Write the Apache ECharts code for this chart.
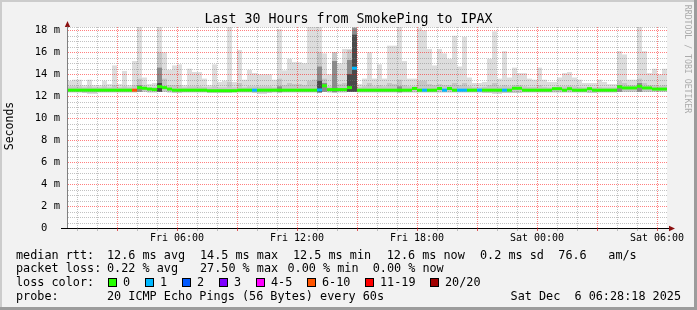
<!DOCTYPE html>
<html><head><meta charset="utf-8">
<script src="https://cdn.jsdelivr.net/npm/echarts@6/dist/echarts.min.js"></script>
<style>html,body{margin:0;padding:0;background:#f2f2f2}#c{width:697px;height:310px}</style>
</head><body><div id="c"></div>
<script>
// ---- time base (hours since Fri 00:00) ----
const startHour = 0.5, endHour = 30.5, stepHours = 0.25;

// ---- smoke (ms) per 15-minute slot ----
const smokeMin = [
12.35,12.35,12.35,12.3,12.25,12.25,12.35,12.35,12.35,12.35,
12.35,12.35,12.35,12.35,12.4,12.4,12.35,12.35,12.4,12.4,
12.35,12.3,12.3,12.35,12.35,12.35,12.35,12.35,12.3,12.3,
12.3,12.3,12.3,12.35,12.35,12.35,12.35,12.3,12.25,12.25,
12.3,12.35,12.35,12.35,12.35,12.35,12.35,12.35,12.35,12.35,
12.35,12.4,12.35,12.35,12.35,12.35,12.4,12.4,12.35,12.35,
12.35,12.35,12.35,12.35,12.35,12.35,12.35,12.35,12.35,12.35,
12.35,12.35,12.35,12.35,12.35,12.35,12.35,12.35,12.35,12.35,
12.35,12.35,12.35,12.3,12.3,12.25,12.25,12.3,12.3,12.3,
12.3,12.35,12.35,12.35,12.35,12.35,12.35,12.35,12.35,12.35,
12.35,12.35,12.35,12.35,12.3,12.3,12.35,12.35,12.35,12.35,
12.4,12.4,12.4,12.4,12.4,12.4,12.4,12.4,12.4,12.4];
const smokeMax = [
13.4,13.5,13.5,13.0,13.5,13.0,13.0,13.4,13.1,14.8,
13.1,14.3,13.0,15.2,18.3,13.7,13.1,13.2,18.3,16.0,
14.4,14.8,14.9,13.0,14.5,14.2,14.2,13.6,13.0,14.9,
13.3,13.4,18.3,13.3,16.2,13.5,14.4,14.1,14.0,14.0,
14.0,13.5,18.1,14.35,15.4,15.1,15.1,15.0,18.3,18.3,
18.3,15.9,14.0,16.0,15.0,16.3,16.3,18.3,13.1,13.6,
16.0,13.6,14.9,13.6,16.6,16.6,18.3,15.2,13.6,13.6,
18.2,18.0,16.3,14.8,16.3,15.9,15.4,17.5,14.7,17.4,
13.7,13.2,13.2,13.3,15.4,17.9,13.6,16.1,13.7,14.6,
14.1,14.1,13.6,13.5,14.6,13.5,13.3,13.3,13.7,14.1,
14.2,13.7,13.5,13.2,13.2,13.2,13.5,13.3,13.1,13.1,
16.1,15.8,13.5,13.5,18.3,16.1,14.1,14.5,14.0,14.5];
const smokeMid = [
12.9,12.9,12.9,12.8,12.9,12.8,12.8,12.9,12.8,13.0,
12.8,12.9,12.8,13.0,13.6,13.0,12.8,12.85,16.0,13.6,
13.0,13.0,13.0,12.8,12.9,12.9,12.9,12.85,12.8,12.9,
12.8,12.8,13.3,12.8,13.2,12.8,12.9,12.9,12.9,12.9,
12.9,12.8,13.6,13.0,13.2,13.1,13.1,13.0,13.4,13.5,
16.0,13.6,12.9,16.0,13.1,13.2,16.2,18.3,12.8,12.9,
13.2,12.9,13.0,12.9,13.2,13.1,13.5,13.0,12.9,12.9,
13.4,13.4,13.1,13.0,13.1,13.0,13.0,13.2,13.0,13.2,
12.9,12.8,12.8,12.85,13.0,13.2,12.9,13.0,12.9,13.0,
13.0,12.9,12.85,12.85,13.0,12.85,12.8,12.85,12.9,12.9,
12.95,12.9,12.85,12.8,12.85,12.8,12.85,12.8,12.8,12.8,
13.4,13.2,13.0,13.0,13.6,13.2,13.0,13.0,12.95,13.0];
const smokeDark = [
0,0,0,0,0,0,0,0,0,0,
0,0,0,0,13.0,0,0,0,14.6,0,
0,0,0,0,0,0,0,0,0,0,
0,0,0,0,0,0,0,0,0,0,
0,0,12.9,0,0,0,0,0,0,0,
14.7,13.2,0,15.2,0,0,15.3,18.2,0,0,
0,0,0,0,0,0,12.9,0,0,0,
0,0,0,0,0,0,0,0,0,0,
0,0,0,0,0,0,0,0,0,0,
0,0,0,0,0,0,0,0,0,0,
0,0,0,0,0,0,0,0,0,0,
13.0,0,0,0,13.2,0,0,0,0,0];
const smokeCore = [
0,0,0,0,0,0,0,0,0,0,
0,0,0,0,0,0,0,0,13.2,0,
0,0,0,0,0,0,0,0,0,0,
0,0,0,0,0,0,0,0,0,0,
0,0,0,0,0,0,0,0,0,0,
13.4,0,0,0,0,0,14.0,17.6,0,0,
0,0,0,0,0,0,0,0,0,0,
0,0,0,0,0,0,0,0,0,0,
0,0,0,0,0,0,0,0,0,0,
0,0,0,0,0,0,0,0,0,0,
0,0,0,0,0,0,0,0,0,0,
0,0,0,0,0,0,0,0,0,0];

// ---- median rtt (ms) and lost pings (of 20) per slot ----
const medianRtt = [
12.55,12.55,12.55,12.55,12.55,12.55,12.55,12.55,12.55,12.55,
12.55,12.55,12.55,12.55,12.78,12.72,12.65,12.6,12.87,12.78,
12.65,12.55,12.55,12.55,12.55,12.55,12.55,12.55,12.5,12.5,
12.5,12.5,12.5,12.5,12.55,12.55,12.55,12.55,12.55,12.55,
12.55,12.55,12.55,12.55,12.55,12.55,12.55,12.55,12.55,12.55,
12.57,12.95,12.6,12.6,12.6,12.6,12.78,14.55,12.55,12.55,
12.55,12.55,12.55,12.55,12.55,12.55,12.55,12.55,12.55,12.7,
12.55,12.55,12.55,12.55,12.7,12.55,12.7,12.55,12.55,12.55,
12.55,12.55,12.55,12.55,12.55,12.55,12.55,12.55,12.55,12.72,
12.72,12.55,12.55,12.55,12.55,12.55,12.55,12.68,12.68,12.55,
12.68,12.55,12.55,12.55,12.68,12.55,12.55,12.55,12.55,12.55,
12.85,12.75,12.75,12.75,12.9,12.75,12.75,12.65,12.65,12.65];
const lostPings = [
0,0,0,0,0,0,0,0,0,0,
0,0,0,6,0,0,0,0,0,0,
0,0,0,0,0,0,0,0,0,0,
0,0,0,0,0,0,0,1,0,0,
0,0,0,0,0,0,0,0,0,0,
1,0,0,0,0,0,0,1,0,0,
0,0,0,0,0,0,0,0,0,0,
0,1,0,0,0,1,0,0,1,1,
0,0,1,0,0,0,0,1,0,0,
0,0,0,0,0,0,0,0,0,0,
0,0,0,0,0,0,0,0,0,0,
0,0,0,0,0,0,0,0,0,0];

// ---- axes / grid ----
const hourTicks = [1,2,3,4,5,6,7,8,9,10,11,12,13,14,15,16,17,18,19,20,21,22,23,24,25,26,27,28,29,30];
const minorHourLines = [1,2,4,5,7,8,10,11,13,14,16,17,19,20,22,23,25,26,28,29];
const majorHourTicks = [3,6,9,12,15,18,21,24,27,30];
const labelHours = [6,12,18,24,30];
const labelTexts = ['Fri 06:00','Fri 12:00','Fri 18:00','Sat 00:00','Sat 06:00'];
const yMajorTicks = [0,2,4,6,8,10,12,14,16,18];
const yMinorLines = [0.5,1,1.5,2.5,3,3.5,4.5,5,5.5,6.5,7,7.5,8.5,9,9.5,10.5,11,11.5,12.5,13,13.5,14.5,15,15.5,16.5,17,17.5,18.3];
const yMax = 18.3;

// ---- legend texts ----
const titleText = 'Last 30 Hours from SmokePing to IPAX';
const rttTexts = ['median rtt:','12.6 ms avg','14.5 ms max','12.5 ms min','12.6 ms now','0.2 ms sd','76.6','am/s'];
const lossTexts = ['packet loss:','0.22 % avg','27.50 % max','0.00 % min','0.00 % now'];
const lossColorTitle = 'loss color:';
const lossLabels = ['0','1','2','3','4-5','6-10','11-19','20/20'];
const lossColors = ['#26ff00','#00b8ff','#0059ff','#7e00ff','#ff00ff','#ff5500','#ff0000','#a10000'];
const probeTexts = ['probe:','20 ICMP Echo Pings (56 Bytes) every 60s'];
const dateText = 'Sat Dec  6 06:28:18 2025';

function lossBin(n){ if(n<=0) return 0; if(n<=3) return n; if(n<=5) return 4; if(n<=10) return 5; if(n<=19) return 6; return 7; }

const FONT = '"DejaVu Sans Mono", monospace';
const smokeData = smokeMax.map((mx,i)=>[startHour+i*stepHours, smokeMin[i], mx, smokeMid[i], smokeDark[i], smokeCore[i]]);
const medianData = medianRtt.map((m,i)=>[startHour+i*stepHours, m, lostPings[i]]);
const vMinorData = minorHourLines.map(v=>[v, 0]);
const vMajorData = majorHourTicks.map(v=>[v, 0]);
const hMinorData = yMinorLines.map(v=>[startHour, v]);
const hMajorData = yMajorTicks.filter(v=>v>0).map(v=>[startHour, v]);

const smokeShades = ['#dddddd','#c6c6c6','#8c8c8c','#4a4a4a'];
const gridGray = 'rgba(120,120,120,0.45)';
const gridRed = 'rgba(255,0,0,0.5)';

function renderSmoke(params, api){
  const t0 = api.value(0), lo = api.value(1);
  const p0 = api.coord([t0, lo]);
  const x1 = api.coord([t0+stepHours, lo])[0];
  const children = [];
  for (let k=0;k<4;k++){
    const hi = api.value(2+k);
    if (!(hi > lo)) continue;
    const yTop = api.coord([t0, hi])[1];
    children.push({type:'rect', shape:{x:p0[0], y:yTop, width:x1-p0[0], height:p0[1]-yTop}, style:{fill:smokeShades[k]}});
  }
  return {type:'group', children};
}
function renderMedian(params, api){
  const t0 = api.value(0), m = api.value(1), loss = api.value(2);
  const p = api.coord([t0, m]);
  const x1 = api.coord([t0+stepHours, m])[0];
  return {type:'rect', shape:{x:p[0], y:p[1]-1.5, width:x1-p[0], height:3}, style:{fill:lossColors[lossBin(loss)]}};
}
// dotted grid line (1 px on, 1 px off) built from small filled rects
function makeGridRenderer(color, horiz){
  return function(params, api){
    const children = [];
    if (!horiz){
      const v = api.value(0);
      const x = Math.round(api.coord([v, 0])[0]);
      const yb = Math.round(api.coord([v, 0])[1]), yt = Math.round(api.coord([v, yMax])[1]);
      for (let y = yb - 1; y >= yt; y -= 2) children.push({type:'rect', shape:{x:x, y:y, width:1, height:1}, style:{fill:color}});
    } else {
      const v = api.value(1);
      const y = Math.round(api.coord([startHour, v])[1]);
      const xl = Math.round(api.coord([startHour, v])[0]), xr = Math.round(api.coord([endHour, v])[0]);
      for (let x = xl + 1; x < xr; x += 2) children.push({type:'rect', shape:{x:x, y:y, width:1, height:1}, style:{fill:color}});
    }
    return {type:'group', children};
  };
}

const GL=67, GT=27, GW=600, GH=201;
const graphics = [];
function txt(x,y,t,size,opts){
  graphics.push(Object.assign({type:'text', x, y, silent:true,
    style:Object.assign({text:t, font:size+'px '+FONT, fill:'#000', align:'left', verticalAlign:'middle'}, (opts&&opts.style)||{})},
    opts&&opts.rotation!==undefined?{rotation:opts.rotation}:{}));
}
// frame shading
graphics.push({type:'rect', shape:{x:0,y:0,width:697,height:2}, style:{fill:'#cccccc'}, silent:true});
graphics.push({type:'rect', shape:{x:0,y:0,width:2,height:310}, style:{fill:'#cccccc'}, silent:true});
graphics.push({type:'rect', shape:{x:694,y:0,width:3,height:310}, style:{fill:'#9c9c9c'}, silent:true});
graphics.push({type:'rect', shape:{x:0,y:307,width:697,height:3}, style:{fill:'#9c9c9c'}, silent:true});
// title & side texts
txt(348.5, 20, titleText, 13.3, {style:{align:'center'}});
txt(10.5, 126, 'Seconds', 11.5, {rotation:Math.PI/2, style:{align:'center'}});
txt(687.5, 59, 'RRDTOOL / TOBI OETIKER', 8.2, {rotation:-Math.PI/2, style:{align:'center', fill:'#ababab'}});
// axis extensions & arrows (filled shapes)
graphics.push({type:'rect', shape:{x:61,y:228,width:GL-61,height:1}, style:{fill:'#000'}, silent:true});
graphics.push({type:'rect', shape:{x:GL+GW,y:228,width:3,height:1}, style:{fill:'#000'}, silent:true});
graphics.push({type:'polygon', shape:{points:[[675,228.5],[669,225.8],[669,231.2]]}, style:{fill:'#8b1010'}, silent:true});
graphics.push({type:'polygon', shape:{points:[[67.5,21],[64.8,27],[70.2,27]]}, style:{fill:'#8b1010'}, silent:true});
// legend rows
const rttX = [16,107,200,293,386.7,480,558.3,608.3];
rttTexts.forEach((t,i)=>txt(rttX[i], 255.5, t, 11.8));
const lossX = [16,107,200,287.5,372.7];
lossTexts.forEach((t,i)=>txt(lossX[i], 269, t, 11.8));
txt(16, 283, lossColorTitle, 11.8);
const boxX = [108,145,182,219,256,307,365,430];
lossLabels.forEach((t,i)=>{
  graphics.push({type:'rect', shape:{x:boxX[i], y:278, width:9, height:9}, style:{fill:'#000'}, silent:true});
  graphics.push({type:'rect', shape:{x:boxX[i]+1, y:279, width:7, height:7}, style:{fill:lossColors[i]}, silent:true});
  txt(boxX[i]+15, 283, t, 11.8);
});
txt(16, 297, probeTexts[0], 11.8);
txt(107, 297, probeTexts[1], 11.8);
txt(681, 297, dateText, 11.8, {style:{align:'right'}});

const chart = echarts.init(document.getElementById('c'), null, {renderer:'canvas', width:697, height:310});
chart.setOption({
  animation:false,
  backgroundColor:'#f2f2f2',
  grid:{left:GL, top:GT, width:GW, height:GH, show:true, backgroundColor:'#ffffff', borderWidth:0},
  xAxis:[
    {type:'value', min:startHour, max:endHour, position:'bottom', z:3,
     axisLine:{show:true, lineStyle:{color:'#000', width:1}},
     axisTick:{show:true, length:3, customValues:hourTicks, lineStyle:{color:'rgba(120,120,120,0.45)'}},
     axisLabel:{show:false}, splitLine:{show:false}},
    {type:'value', min:startHour, max:endHour, position:'bottom', z:3,
     axisLine:{show:false},
     axisTick:{show:true, length:3, customValues:majorHourTicks, lineStyle:{color:'rgba(255,0,0,0.5)'}},
     axisLabel:{show:true, customValues:labelHours, margin:5, fontFamily:FONT, fontSize:10, color:'#000',
       formatter:(v)=>{const k=labelHours.indexOf(Math.round(v)); return k>=0?labelTexts[k]:'';}},
     splitLine:{show:false}}
  ],
  yAxis:[
    {type:'value', min:0, max:yMax, z:3,
     axisLine:{show:true, lineStyle:{color:'#808080', width:1}},
     axisTick:{show:false, customValues:yMajorTicks},
     axisLabel:{show:true, customValues:yMajorTicks, margin:7, fontFamily:FONT, fontSize:10.5, color:'#000',
       formatter:(v)=> v===0 ? '0  ' : (v+' m')},
     splitLine:{show:false}}
  ],
  series:[
    {type:'custom', name:'smoke', z:1, clip:true, renderItem:renderSmoke, data:smokeData, silent:true},
    {type:'custom', name:'vgrid minor', z:2, clip:false, renderItem:makeGridRenderer(gridGray,false), data:vMinorData, silent:true},
    {type:'custom', name:'hgrid minor', z:2, clip:false, renderItem:makeGridRenderer(gridGray,true), data:hMinorData, silent:true},
    {type:'custom', name:'vgrid major', z:2, clip:false, renderItem:makeGridRenderer(gridRed,false), data:vMajorData, silent:true},
    {type:'custom', name:'hgrid major', z:2, clip:false, renderItem:makeGridRenderer(gridRed,true), data:hMajorData, silent:true},
    {type:'custom', name:'median', z:3, clip:true, renderItem:renderMedian, data:medianData, silent:true}
  ],
  graphic:{elements:graphics}
});
</script></body></html>
